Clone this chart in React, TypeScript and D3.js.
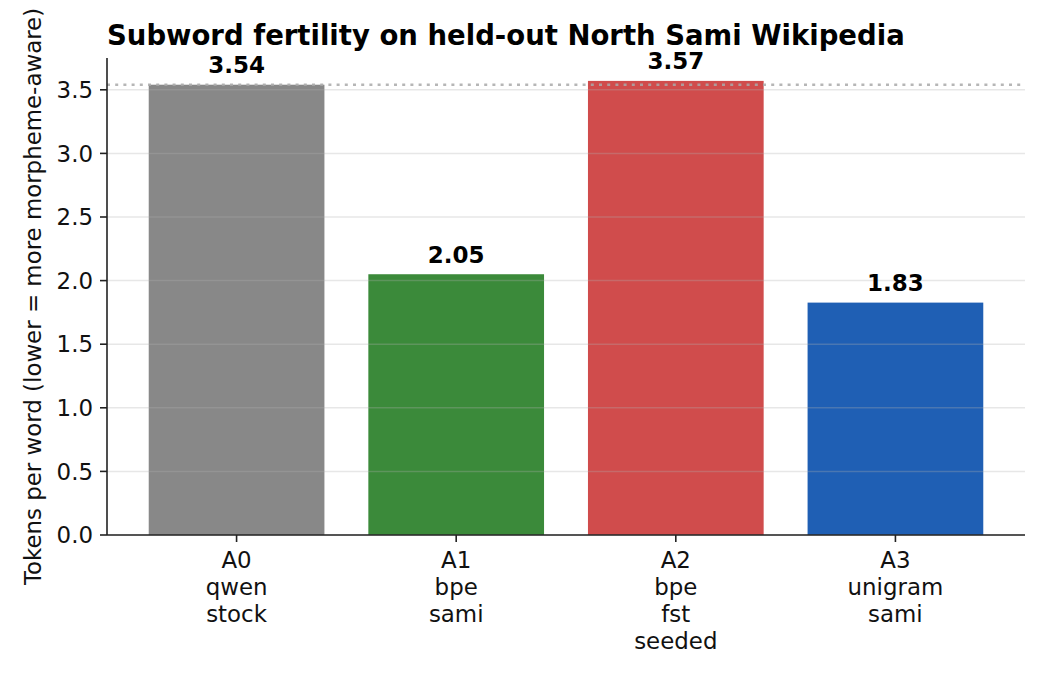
import React from "react";
import * as d3 from "d3";

const categories = ["A0\nqwen\nstock", "A1\nbpe\nsami", "A2\nbpe\nfst\nseeded", "A3\nunigram\nsami"];
const values = [3.54, 2.05, 3.57, 1.827];
const labels = ["3.54", "2.05", "3.57", "1.83"];
const colors = ["#888888", "#3b8a3a", "#d04c4c", "#1f5fb4"];
const yTicks = [0, 0.5, 1.0, 1.5, 2.0, 2.5, 3.0, 3.5];
const referenceValue = 3.54;
const title = "Subword fertility on held-out North Sami Wikipedia";
const yLabel = "Tokens per word (lower = more morpheme-aware)";

const W = 1050, H = 675;
const left = 107, right = 1025, top = 58, bottom = 535;
const FONT = "DejaVu Sans, sans-serif";

export default function App() {
  const x = d3.scaleLinear().domain([-0.59, 3.59]).range([left, right]);
  const y = d3.scaleLinear().domain([0, 3.75]).range([bottom, top]);
  const bw = x(0.4) - x(-0.4);
  return (
    <div style={{ position: "fixed", left: 0, top: 0 }}>
      <svg width={W} height={H} style={{ display: "block", background: "#fff" }} fontFamily={FONT}>
        {values.map((v, i) => (
          <rect key={i} x={x(i) - bw / 2} y={y(v)} width={bw} height={bottom - y(v)} fill={colors[i]} />
        ))}
        {yTicks.map((t) => (
          <line key={t} x1={left} x2={right} y1={y(t)} y2={y(t)} stroke="#b0b0b0" strokeOpacity={0.3} strokeWidth={1.5} />
        ))}
        <line x1={left} x2={right} y1={y(referenceValue)} y2={y(referenceValue)} stroke="#aaaaaa" strokeWidth={2.6} strokeDasharray="3,5.2" opacity={0.85} />
        {values.map((v, i) => (
          <text key={i} x={x(i)} y={y(v) - 11.5} textAnchor="middle" fontSize={23} fontWeight="bold" fill="#000">
            {labels[i]}
          </text>
        ))}
        <line x1={left} x2={left} y1={top} y2={bottom} stroke="#222" strokeWidth={1.6} />
        <line x1={left} x2={right} y1={bottom} y2={bottom} stroke="#222" strokeWidth={1.6} />
        {yTicks.map((t) => (
          <g key={t}>
            <line x1={left - 7} x2={left} y1={y(t)} y2={y(t)} stroke="#222" strokeWidth={1.6} />
            <text x={left - 14} y={y(t)} dy="0.36em" textAnchor="end" fontSize={22.9} fill="#111">
              {t.toFixed(1)}
            </text>
          </g>
        ))}
        {categories.map((c, i) => (
          <g key={i}>
            <line x1={x(i)} x2={x(i)} y1={bottom} y2={bottom + 7} stroke="#222" strokeWidth={1.6} />
            {c.split("\n").map((ln, j) => (
              <text key={j} x={x(i)} y={bottom + 32.5 + j * 27} textAnchor="middle" fontSize={22.9} fill="#111">
                {ln}
              </text>
            ))}
          </g>
        ))}
        <text transform={`translate(41,${(top + bottom) / 2}) rotate(-90)`} textAnchor="middle" fontSize={22.9} fill="#111">
          {yLabel}
        </text>
        <text x={107} y={45} fontSize={27.5} fontWeight="bold" fill="#000">
          {title}
        </text>
      </svg>
    </div>
  );
}
